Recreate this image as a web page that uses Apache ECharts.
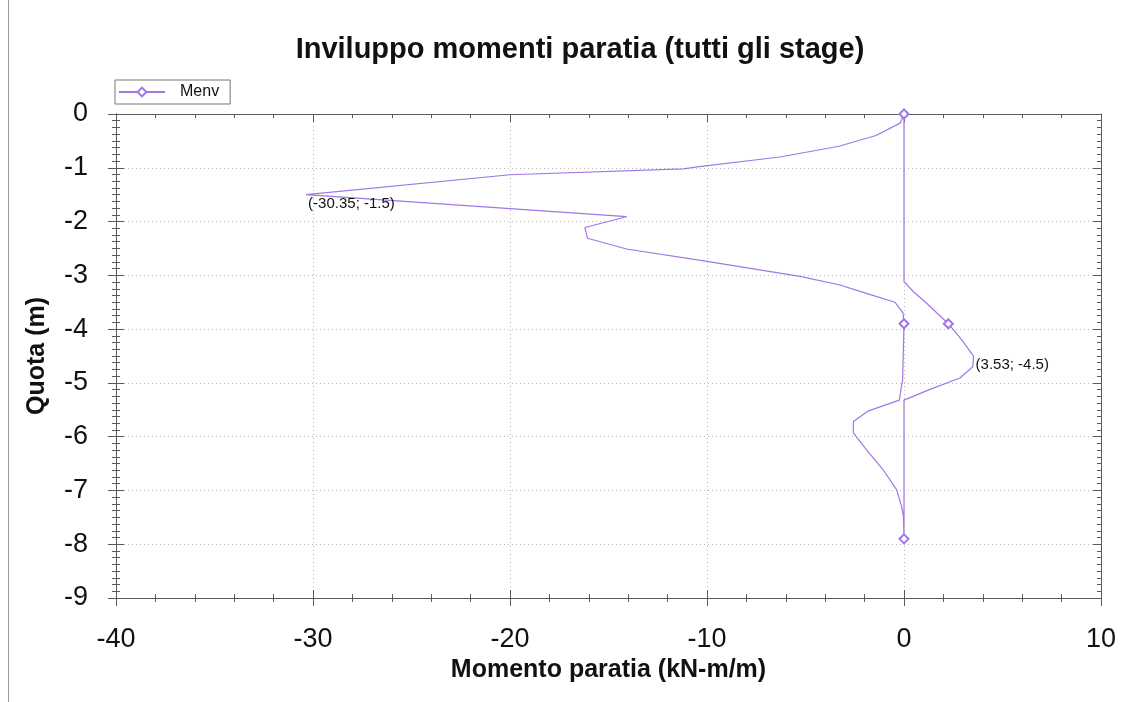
<!DOCTYPE html>
<html>
<head>
<meta charset="utf-8">
<script src="https://cdn.jsdelivr.net/npm/echarts@6/dist/echarts.min.js"></script>
<style>
  html, body { margin: 0; padding: 0; background: #fff; }
  #chart { width: 1131px; height: 702px; }
</style>
</head>
<body>
<div id="chart"></div>
<script>
// Bending moment envelope of the retaining wall (all construction stages)
const seriesName = 'Menv';

// Negative (minimum) branch, from wall top down to the toe
const minDepth  = [0, -0.17, -0.4, -0.6, -0.8, -0.98, -1.02, -1.13, -1.5, -1.91, -2.11, -2.31, -2.51, -2.74, -3.02, -3.18, -3.33, -3.5, -3.7, -3.9, -4.95, -5.07, -5.32, -5.52, -5.72, -5.93, -6.25, -6.62, -6.99, -7.3, -7.48, -7.9];
const minMoment = [0, -0.2, -1.42, -3.3, -6.3, -10.4, -11.2, -20, -30.35, -14.08, -16.2, -16.07, -14.08, -10.0, -5.28, -3.25, -1.95, -0.46, -0.05, 0, -0.07, -0.13, -0.24, -1.8, -2.57, -2.57, -1.89, -1.05, -0.37, -0.12, -0.03, 0];

// Positive (maximum) branch, from wall top down to the toe
const maxDepth  = [0, -3.12, -3.3, -3.52, -3.9, -4.2, -4.45, -4.5, -4.7, -4.91, -5.12, -5.32, -7.9];
const maxMoment = [0, 0, 0.47, 1.15, 2.25, 2.93, 3.43, 3.53, 3.49, 2.84, 1.32, 0, 0];

// Indices (within each branch) drawn with a diamond marker
const minMarked = [0, 19, 31];
const maxMarked = [4];

// Axis ranges and steps
const xRange = { min: -40, max: 10, step: 10 };
const yRange = { min: -9, max: 0, step: 1 };

const FONT = '"Liberation Sans", Arial, sans-serif';
const LINE_COLOR = '#a076e8';
const AXIS_COLOR = '#5a5a5a';

// One polyline: down the min branch, back up the max branch
const points = [];
const marked = new Set();
minDepth.forEach((d, i) => {
  if (minMarked.includes(i)) marked.add(points.length);
  points.push([minMoment[i], d]);
});
for (let i = maxDepth.length - 1; i >= 0; i--) {
  if (maxMarked.includes(i)) marked.add(points.length);
  points.push([maxMoment[i], maxDepth[i]]);
}

// Extreme values are annotated with their coordinates
let iMin = 0, iMax = 0;
points.forEach((p, i) => {
  if (p[0] < points[iMin][0]) iMin = i;
  if (p[0] > points[iMax][0]) iMax = i;
});

const seriesData = points.map((p, i) => {
  const item = { value: p };
  if (i === iMin || i === iMax) {
    item.label = {
      show: true,
      position: 'right',
      distance: 2,
      offset: [0, 9],
      formatter: (prm) => '(' + prm.value[0] + '; ' + prm.value[1] + ')',
      color: '#111',
      fontSize: 15,
      fontFamily: FONT
    };
  }
  return item;
});

const GRID = { left: 116, right: 30, top: 114, bottom: 104 };

// Frame axes: ticks only, no labels, kept off the zero line
function frameAxis(pos, gridIndex, r, minorSplit) {
  return {
    type: 'value', gridIndex, position: pos,
    min: r.min, max: r.max, interval: r.step,
    axisLine: { show: true, onZero: false, lineStyle: { color: AXIS_COLOR, width: 1 } },
    axisTick: { show: true, inside: true, length: 8, lineStyle: { color: AXIS_COLOR } },
    minorTick: { show: true, splitNumber: minorSplit, length: 4, lineStyle: { color: AXIS_COLOR } },
    axisLabel: { show: false },
    splitLine: { show: false }
  };
}

const chart = echarts.init(document.getElementById('chart'), null, { renderer: 'canvas' });

chart.setOption({
  animation: false,
  backgroundColor: '#fff',
  title: {
    text: 'Inviluppo momenti paratia (tutti gli stage)',
    left: 575, top: 30, textAlign: 'center',
    textStyle: { fontFamily: FONT, fontSize: 29, fontWeight: 'bold', color: '#111' }
  },
  legend: {
    data: [seriesName],
    left: 115, top: 80,
    orient: 'horizontal',
    padding: [4, 11, 4, 3],
    itemWidth: 46, itemHeight: 11,
    borderColor: '#777', borderWidth: 1, borderRadius: 0,
    textStyle: { fontFamily: FONT, fontSize: 16, color: '#111', padding: [0, 0, 0, 10] }
  },
  grid: [
    Object.assign({ containLabel: false }, GRID),
    Object.assign({ containLabel: false }, GRID)
  ],
  xAxis: [
    {
      type: 'value', gridIndex: 0, position: 'bottom',
      min: xRange.min, max: xRange.max, interval: xRange.step,
      name: 'Momento paratia (kN-m/m)',
      nameLocation: 'middle', nameGap: 55,
      nameTextStyle: { fontFamily: FONT, fontSize: 25, fontWeight: 'bold', color: '#111' },
      axisLine: { show: true, onZero: false, lineStyle: { color: AXIS_COLOR, width: 1 } },
      axisTick: { show: true, inside: false, length: 8, lineStyle: { color: AXIS_COLOR } },
      minorTick: { show: true, splitNumber: 5, length: 4, lineStyle: { color: AXIS_COLOR } },
      axisLabel: { show: true, margin: 28, fontFamily: FONT, fontSize: 27, color: '#111' },
      splitLine: { show: true, lineStyle: { color: '#b8b8b8', type: [1, 3], width: 1 } }
    },
    frameAxis('bottom', 1, xRange, 5),
    frameAxis('top', 1, xRange, 5)
  ],
  yAxis: [
    {
      type: 'value', gridIndex: 0, position: 'left',
      min: yRange.min, max: yRange.max, interval: yRange.step,
      name: 'Quota (m)',
      nameLocation: 'middle', nameGap: 66, nameRotate: 90,
      nameTextStyle: { fontFamily: FONT, fontSize: 25, fontWeight: 'bold', color: '#111' },
      axisLine: { show: true, onZero: false, lineStyle: { color: AXIS_COLOR, width: 1 } },
      axisTick: { show: true, inside: false, length: 8, lineStyle: { color: AXIS_COLOR } },
      minorTick: { show: true, splitNumber: 8, length: 4, lineStyle: { color: AXIS_COLOR } },
      axisLabel: { show: true, margin: 28, fontFamily: FONT, fontSize: 27, color: '#111' },
      splitLine: { show: true, lineStyle: { color: '#b8b8b8', type: [1, 3], width: 1 } }
    },
    frameAxis('left', 1, yRange, 8),
    frameAxis('right', 1, yRange, 8)
  ],
  series: [
    {
      name: seriesName,
      type: 'line',
      xAxisIndex: 0, yAxisIndex: 0,
      data: seriesData,
      symbol: 'emptyDiamond',
      symbolSize: (val, prm) => (marked.has(prm.dataIndex) ? 9 : 0),
      showAllSymbol: true,
      color: LINE_COLOR,
      lineStyle: { color: LINE_COLOR, width: 1.2 },
      itemStyle: { color: LINE_COLOR, borderColor: LINE_COLOR, borderWidth: 1 },
      emphasis: { disabled: true },
      z: 5
    }
  ],
  graphic: [
    {
      type: 'line',
      shape: { x1: 8.5, y1: 0, x2: 8.5, y2: 702 },
      style: { stroke: '#9a9a9a', lineWidth: 1 },
      silent: true
    }
  ]
});
</script>
</body>
</html>
